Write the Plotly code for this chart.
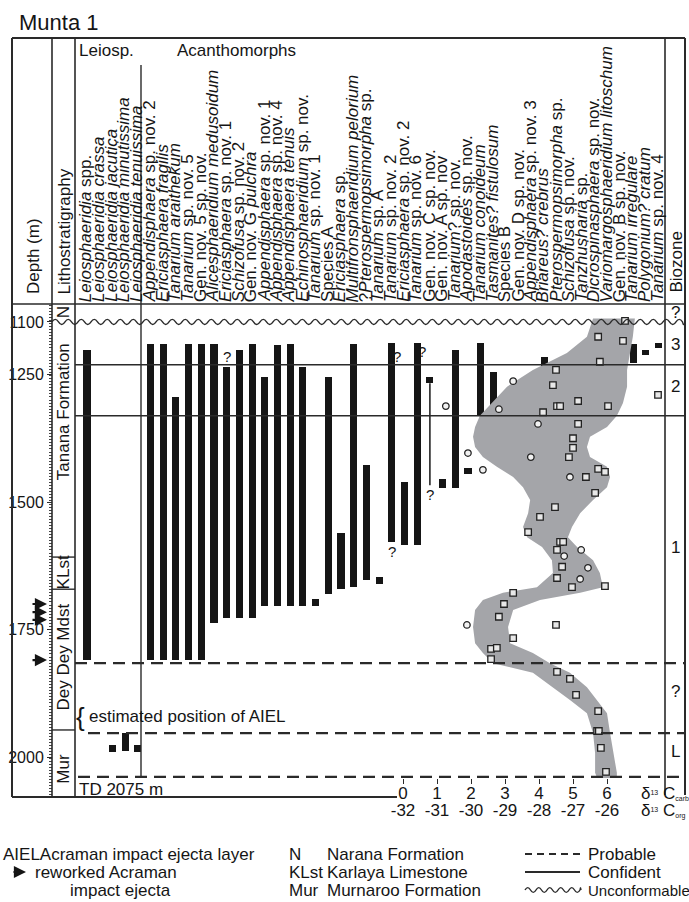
import plotly.graph_objects as go

W, H = 689, 902
def px(x):
    return x / W
def py(y):
    return 1 - y / H

FONT = "Liberation Sans, Arial, Helvetica, sans-serif"
INK = "#151515"

# ---------------- data ----------------
species = [
    "<i>Leiosphaeridia</i> spp.", "<i>Leiosphaeridia crassa</i>", "<i>Leiosphaeridia jacutica</i>",
    "<i>Leiosphaeridia minutissima</i>", "<i>Leiosphaeridia tenuissima</i>",
    "<i>Appendisphaera</i> sp. nov. 2", "<i>Ericiasphaera fragilis</i>", "<i>Tanarium araithekum</i>",
    "<i>Tanarium</i> sp. nov. 5", "Gen. nov. 5 sp. nov.", "<i>Alicesphaeridium medusoidum</i>",
    "<i>Ericiasphaera</i> sp. nov. 1", "<i>Schizofusa</i> sp. nov. 2", "Gen. nov. G <i>pulchra</i>",
    "<i>Appendisphaera</i> sp. nov. 1", "<i>Appendisphaera</i> sp. nov. 4", "<i>Appendisphaera tenuis</i>",
    "<i>Echinosphaeridium</i> sp. nov.", "<i>Tanarium</i> sp. nov. 1", "Species A",
    "<i>Ericiasphaera</i> sp.", "<i>Multifronsphaeridium pelorium</i>", "?<i>Pterospermopsimorpha</i> sp.",
    "<i>Tanarium</i> sp. A", "<i>Tanarium</i> sp. nov. 2", "<i>Ericiasphaera</i> sp. nov. 2",
    "<i>Tanarium</i> sp. nov. 6", "Gen. nov. C sp. nov.", "Gen. nov. A sp. nov",
    "<i>Tanarium</i>? sp. nov.", "<i>Apodastoides</i> sp. nov.", "<i>Tanarium conoideum</i>",
    "<i>Tasmanites? fistulosum</i>", "Species B", "Gen. nov. D sp. nov.",
    "<i>Appendisphaera</i> sp. nov. 3", "<i>Briareus? crebrus</i>", "<i>Pterospermopsimorpha</i> sp.",
    "<i>Schizofusa</i> sp. nov.", "<i>Tanzhusharia</i> sp.", "<i>Dicrospinasphaera</i> sp. nov.",
    "<i>Variomargosphaeridium litoschum</i>", "Gen. nov. B sp. nov.", "<i>Tanarium irregulare</i>",
    "<i>Polygonium? cratum</i>", "<i>Tanarium</i> sp. nov. 4",
]

bar_species = [0, 2, 3, 4, 5, 6, 7, 8, 9, 10, 11, 12, 13, 14, 15, 16, 17, 18, 19, 20,
               21, 22, 23, 24, 25, 26, 27, 28, 29, 30, 31, 32, 33, 34, 35, 36, 37, 38, 39, 40,
               41, 42, 43, 44, 45]
bar_top = [1202, 1976, 1953, 1976, 1190, 1190, 1294, 1190, 1190, 1190, 1235, 1202, 1190, 1255, 1192, 1190, 1235, 1690, 1255, 1561,
           1190, 1428, 1647, 1188, 1461, 1188, 1255, 1455, 1202, 1433, 1188, 1245, 1294, 1294, 1255, 1216, 1255, 1225, 1255, 1235,
           1202, 1216, 1190, 1202, 1188]
bar_bottom = [1810, 1990, 1988, 1990, 1810, 1810, 1810, 1810, 1810, 1737, 1727, 1727, 1727, 1704, 1704, 1704, 1704, 1704, 1680, 1671,
              1667, 1653, 1661, 1578, 1584, 1584, 1267, 1473, 1473, 1445, 1331, 1331, 1302, 1302, 1271, 1267, 1267, 1267, 1267, 1253,
              1235, 1227, 1227, 1212, 1198]

uncertain_species = [27]
uncertain_top = [1267]
uncertain_bottom = [1467]

query_species = [11, 24.4, 24, 26.4, 27]
query_depth = [1214, 1214, 1598, 1204, 1486]

carb_depth = [1145, 1176, 1184, 1225, 1241, 1271, 1302, 1312, 1312, 1312, 1324, 1290, 1347, 1375, 1394,
              1412, 1435, 1441, 1451, 1482, 1510, 1529, 1559, 1578, 1578, 1594, 1627, 1649, 1667, 1665,
              1678, 1700, 1725, 1741, 1767, 1788, 1786, 1808, 1833, 1847, 1878, 1910, 1949, 1949, 1982, 2029]
carb_value = [6.53, 5.74, 6.47, 5.79, 4.50, 4.41, 5.15, 4.53, 4.62, 6.03, 4.12, 7.50, 5.15, 5.00, 5.00,
              4.88, 5.74, 5.94, 5.38, 5.65, 4.47, 4.03, 3.68, 4.62, 4.71, 4.53, 4.68, 4.53, 4.97, 5.94,
              3.24, 2.97, 2.82, 4.50, 3.24, 2.59, 2.76, 2.59, 4.53, 4.91, 5.09, 5.74, 5.71, 5.76, 5.82, 5.97]

org_depth = [1318, 1263, 1347, 1412, 1451, 1606, 1594, 1629, 1651, 1741, 1312, 1404, 1437]
org_value = [-29.18, -28.76, -28.03, -28.24, -27.09, -27.26, -26.76, -26.56, -26.79, -30.12, -30.74, -30.09, -29.65]

band_depth = [1140, 1176, 1208, 1241, 1274, 1306, 1331, 1353, 1372, 1392, 1412, 1431, 1451, 1471, 1496,
              1522, 1549, 1569, 1588, 1614, 1639, 1667, 1678, 1692, 1712, 1745, 1777, 1796, 1816, 1835,
              1863, 1888, 1914, 1953, 1992, 2031, 2041]
band_left = [5.59, 5.41, 4.82, 3.82, 3.06, 2.62, 2.26, 2.12, 2.06, 2.12, 2.35, 2.76, 3.24, 3.53, 3.74,
             3.68, 3.53, 3.65, 4.09, 4.38, 4.41, 3.94, 2.94, 2.35, 2.12, 2.06, 2.12, 2.35, 2.65, 3.82,
             4.41, 4.91, 5.41, 5.59, 5.65, 5.65, 5.71]
band_right = [6.82, 6.76, 6.68, 6.59, 6.59, 6.47, 6.29, 6.00, 5.50, 5.41, 5.50, 6.00, 6.09, 6.00, 5.59,
              5.21, 4.97, 4.85, 5.12, 5.59, 5.79, 5.88, 5.21, 4.03, 3.24, 3.09, 3.15, 3.82, 4.32, 4.91,
              5.41, 5.71, 6.00, 6.09, 6.18, 6.29, 6.29]

depth_ticks = [1147, 1250, 1500, 1750, 2000]
depth_labels = ["1100", "1250", "1500", "1750", "2000"]
carb_ticks = [0, 1, 2, 3, 4, 5, 6]
org_ticks = [-32, -31, -30, -29, -28, -27, -26]

unconformity_depth = 1147
confident_depths = [1231, 1331]
probable_depths = [1816, 1953, 2039]
lith_bounds = [1608, 1671, 1947]
lith_names = ["N", "Tanana Formation", "KLst", "Dey Dey Mdst", "Mur"]
lith_label_depth = [1129, 1323, 1639, 1804, 2024]
biozone_names = ["?", "3", "2", "1", "?", "L"]
biozone_depth = [1129, 1192, 1274, 1590, 1872, 1990]
ejecta_depth = [1700, 1716, 1731, 1810]

# ---------------- geometry ----------------
Y_TOP, Y_BOT = 304, 797
D_TOP = 1500 - (502 - Y_TOP) / 0.51
D_BOT = 1500 + (Y_BOT - 502) / 0.51
X0, X1 = 75, 665
SP0, SPW = 87, 12.7
C0, CW = 403, 34

fig = go.Figure()

# grey isotope envelope
fig.add_trace(go.Scatter(
    x=band_left + band_right[::-1], y=band_depth + band_depth[::-1],
    xaxis="x2", yaxis="y", mode="lines", fill="toself",
    fillcolor="#a4a5a9", line=dict(width=0), hoverinfo="skip", showlegend=False))

# range bars
fig.add_trace(go.Bar(
    x=bar_species, base=bar_top, y=[b - t for t, b in zip(bar_top, bar_bottom)],
    width=0.56, marker=dict(color=INK, line=dict(width=0)), showlegend=False,
    xaxis="x", yaxis="y"))

for s, t, b in zip(uncertain_species, uncertain_top, uncertain_bottom):
    fig.add_trace(go.Scatter(x=[s, s], y=[t, b], mode="lines", line=dict(color=INK, width=1.5),
                             showlegend=False, xaxis="x", yaxis="y"))

# isotope points
fig.add_trace(go.Scatter(
    x=carb_value, y=carb_depth, mode="markers", xaxis="x2", yaxis="y",
    marker=dict(symbol="square", size=6.5, color="#e8e8e8", line=dict(color="#222", width=1.3)),
    showlegend=False))
fig.add_trace(go.Scatter(
    x=org_value, y=org_depth, mode="markers", xaxis="x3", yaxis="y",
    marker=dict(symbol="circle", size=6.5, color="#f2f2f2", line=dict(color="#222", width=1.3)),
    showlegend=False))

shapes = []
def hline(x0, x1, y, w=1.6, dash=None, yref="paper"):
    yy = y if yref == "y" else py(y)
    ln = dict(color="#2a2a2a", width=w)
    if dash:
        ln["dash"] = dash
    shapes.append(dict(type="line", xref="paper", yref=yref, x0=px(x0), x1=px(x1), y0=yy, y1=yy, line=ln))
def vline(x, y0, y1, w=1.6):
    shapes.append(dict(type="line", xref="paper", yref="paper", x0=px(x), x1=px(x), y0=py(y0), y1=py(y1),
                       line=dict(color="#2a2a2a", width=w)))

def wavy(x0, x1, y, period=13.0, amp=2.6):
    p = f"M {px(x0):.5f},{py(y):.5f}"
    x, up = x0, True
    while x < x1 - 1e-6:
        xm = min(x + period / 2, x1)
        cy = y - 2 * amp if up else y + 2 * amp
        p += f" Q {px((x + xm) / 2):.5f},{py(cy):.5f} {px(xm):.5f},{py(y):.5f}"
        x, up = xm, not up
    return p

# frame
hline(12, 685, 38, 2)
vline(12, 38, 797, 2)
hline(12, 397, 797, 2)
vline(52, 38, 797)
vline(75, 38, 797)
vline(665, 38, 795)
vline(685, 38, 795, 2)
hline(12, 685, Y_TOP)
vline(141, 65, 778, 1.4)

for d in lith_bounds:
    hline(52, 75, d, 1.4, yref="y")
for d in confident_depths:
    hline(75, 685, d, 1.6, yref="y")
hline(75, 685, probable_depths[0], 2.2, dash="12px,7px", yref="y")
hline(88, 685, probable_depths[1], 2.2, dash="12px,7px", yref="y")
hline(78, 685, probable_depths[2], 2.2, dash="12px,7px", yref="y")

yu = 502 + (unconformity_depth - 1500) * 0.51
shapes.append(dict(type="path", xref="paper", yref="paper", path=wavy(52, 685, yu),
                   line=dict(color="#2a2a2a", width=1.4)))

# legend symbols
LY = [854, 872, 890]
hline(525, 580, LY[0], 1.8, dash="7px,5px")
hline(525, 580, LY[1], 1.8)
shapes.append(dict(type="path", xref="paper", yref="paper", path=wavy(525, 581, LY[2], 11, 2.4),
                   line=dict(color="#2a2a2a", width=1.4)))

ann = []
def text(x, y, s, size=17, xanchor="left", yanchor="middle", angle=0, xref="paper", yref="paper", **kw):
    ann.append(dict(x=x, y=y, xref=xref, yref=yref, text=s, showarrow=False, textangle=angle,
                    xanchor=xanchor, yanchor=yanchor, font=dict(family=FONT, size=size, color=INK), **kw))

text(px(17), py(22), "Munta 1", size=22)
text(px(77), py(51), "Leiosp.")
text(px(175), py(51), "Acanthomorphs")
text(px(33), py(256), "Depth (m)", angle=-90, xanchor="center", yanchor="middle")
text(px(63.5), py(232), "Lithostratigraphy", angle=-90, xanchor="center", yanchor="middle")
text(px(675.5), py(262), "Biozone", angle=-90, xanchor="center", yanchor="middle")

for i, s in enumerate(species):
    text(i - 0.1, py(304), s, angle=-90, xanchor="center", yanchor="bottom", xref="x")

for s, d in zip(lith_names, lith_label_depth):
    text(px(63.5), d, s, angle=-90, xanchor="center", yanchor="middle", yref="y")
for s, d in zip(biozone_names, biozone_depth):
    text(px(675.5), d, s, xanchor="center", yanchor="middle", yref="y")
for s, d in zip(query_species, query_depth):
    text(s, d, "?", size=15, xanchor="center", yanchor="middle", xref="x", yref="y")

text(px(80), 1922, "{", size=26, xanchor="center", yanchor="middle", yref="y")
text(px(87), 1921, "estimated position of AIEL", yref="y")
text(px(77), 2064, "TD 2075 m", yref="y")

SMALL = "<span style='font-size:10px'>"
text(px(639), py(793), f"δ{SMALL}<sup>13</sup></span> C{SMALL}<sub>carb</sub></span>")
text(px(639), py(810), f"δ{SMALL}<sup>13</sup></span> C{SMALL}<sub>org</sub></span>")

for d in ejecta_depth:
    ann.append(dict(x=px(47), y=d, xref="paper", yref="y", ax=-16, ay=0, text="", showarrow=True,
                    arrowhead=2, arrowsize=1.1, arrowwidth=2.2, arrowcolor=INK))

# bottom legend
text(px(1), py(LY[0]), "AIELAcraman impact ejecta layer")
ann.append(dict(x=px(26), y=py(LY[1]), xref="paper", yref="paper", ax=-14, ay=0, text="", showarrow=True,
                arrowhead=2, arrowsize=1.1, arrowwidth=2.2, arrowcolor=INK))
text(px(33), py(LY[1]), "reworked Acraman")
text(px(68), py(LY[2]), "impact ejecta")
text(px(287), py(LY[0]), "N")
text(px(287), py(LY[1]), "KLst")
text(px(287), py(LY[2]), "Mur")
text(px(325), py(LY[0]), "Narana Formation")
text(px(325), py(LY[1]), "Karlaya Limestone")
text(px(325), py(LY[2]), "Murnaroo Formation")
text(px(586), py(LY[0]), "Probable")
text(px(586), py(LY[1]), "Confident")
text(px(586), py(LY[2]), "Unconformable", size=15)

axis_font = dict(family=FONT, size=17, color=INK)
fig.update_layout(
    width=W, height=H, margin=dict(l=0, r=0, t=0, b=0),
    paper_bgcolor="white", plot_bgcolor="rgba(0,0,0,0)", showlegend=False, bargap=0,
    xaxis=dict(domain=[px(X0), px(X1)], range=[(X0 - SP0) / SPW, (X1 - SP0) / SPW],
               visible=False, anchor="y", fixedrange=True),
    # carbonate scale: labels
    xaxis2=dict(domain=[px(X0), px(X1)], range=[(X0 - C0) / CW, (X1 - C0) / CW], overlaying="x",
                anchor="free", position=py(781), tickmode="array", tickvals=carb_ticks,
                ticks="", showline=False, showgrid=False, zeroline=False, tickfont=axis_font),
    # organic scale: labels
    xaxis3=dict(domain=[px(X0), px(X1)], range=[(X0 - C0) / CW - 32, (X1 - C0) / CW - 32], overlaying="x",
                anchor="free", position=py(798), tickmode="array", tickvals=org_ticks,
                ticktext=[str(v) for v in org_ticks], ticks="", showline=False,
                showgrid=False, zeroline=False, tickfont=axis_font),
    # carbonate scale: tick marks
    xaxis4=dict(domain=[px(X0), px(X1)], range=[(X0 - C0) / CW, (X1 - C0) / CW], overlaying="x",
                anchor="free", position=py(778), tickmode="array", tickvals=carb_ticks,
                ticks="outside", ticklen=5, tickwidth=1.4, tickcolor="#2a2a2a", showticklabels=False,
                showline=False, showgrid=False, zeroline=False),
    yaxis=dict(domain=[py(Y_BOT), py(Y_TOP)], range=[D_BOT, D_TOP], anchor="free", position=px(52),
               tickmode="array", tickvals=depth_ticks, ticktext=depth_labels, ticks="outside",
               ticklen=5, tickwidth=1.3, tickcolor="#2a2a2a", showgrid=False, zeroline=False,
               showline=False, tickfont=dict(family=FONT, size=16, color=INK),
               minor=dict(tickmode="linear", tick0=1150, dtick=6, ticks="outside", ticklen=3,
                          tickcolor="#444", tickwidth=1)),
    shapes=shapes, annotations=ann,
)
# an invisible trace so the tick-mark axis is drawn
fig.add_trace(go.Scatter(x=[0], y=[D_BOT], xaxis="x4", yaxis="y", mode="markers",
                         marker=dict(opacity=0), hoverinfo="skip", showlegend=False))

fig.write_html("out.html", config={"displayModeBar": False},
               post_script="document.body.style.margin='0px';")
